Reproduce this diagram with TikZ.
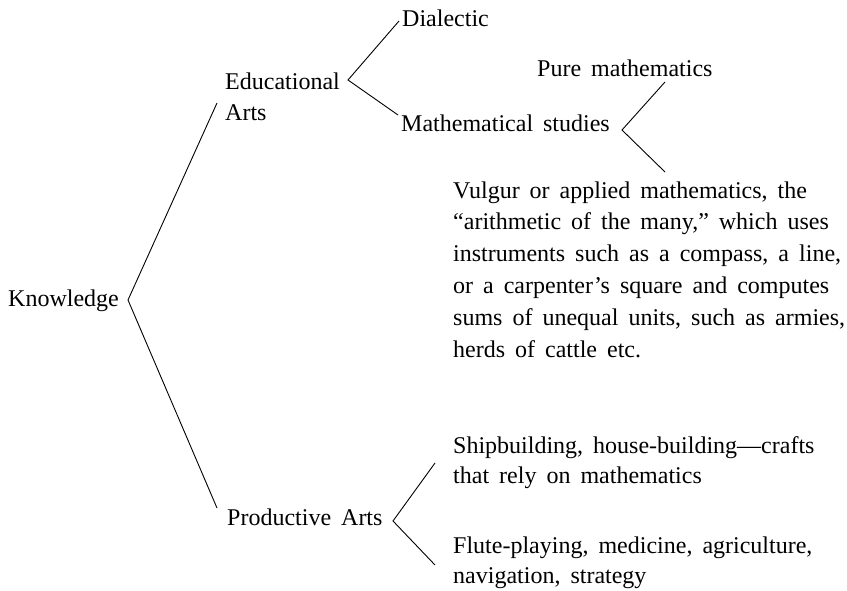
\documentclass[tikz,border=0pt]{standalone}
\usepackage{fontspec}
\setmainfont{Liberation Serif}
\newcommand{\diagfont}{\fontsize{24}{31.8}\selectfont\spaceskip=10pt plus 2pt minus 1pt\relax}
\newcommand{\diagfonttight}{\fontsize{24}{30}\selectfont\spaceskip=10pt plus 2pt minus 1pt\relax}
\tikzset{
  lbl/.style={anchor=base west, inner sep=0pt, align=left, font=\diagfont},
  lbltight/.style={anchor=base west, inner sep=0pt, align=left, font=\diagfonttight},
  brk/.style={draw=black, line width=0.9pt, line join=miter}
}
\begin{document}
\begin{tikzpicture}[x=1pt,y=-1pt]
\useasboundingbox (0,0) rectangle (847,591);
% text nodes (anchored at the baseline of their last line)
\node[lbl] (know) at (8,306) {Knowledge};
\node[lbl] (edu) at (225,121) {Educational\\Arts};
\node[lbl] (prod) at (227,525) {Productive Arts};
\node[lbl] (dia) at (402,27) {Dialectic};
\node[lbl] (math) at (401,132) {Mathematical studies};
\node[lbl] (pure) at (537,77) {Pure mathematics};
\node[lbl] (vulg) at (453,357) {Vulgur or applied mathematics, the\\“arithmetic of the many,” which uses\\instruments such as a compass, a line,\\or a carpenter’s square and computes\\sums of unequal units, such as armies,\\herds of cattle etc.};
\node[lbltight] (ship) at (453,483) {Shipbuilding, house-building—crafts\\that rely on mathematics};
\node[lbltight] (flute) at (453,583) {Flute-playing, medicine, agriculture,\\navigation, strategy};
% bracket points
\coordinate (kv) at (128,300);
\coordinate (ke1) at (217,103);
\coordinate (ke2) at (217,508);
\coordinate (ev) at (348,80);
\coordinate (ee1) at (399,21);
\coordinate (ee2) at (398,115);
\coordinate (mv) at (622,130);
\coordinate (me1) at (665,82);
\coordinate (me2) at (665,172);
\coordinate (pv) at (393,521);
\coordinate (pe1) at (435,463);
\coordinate (pe2) at (435,565);
% connectors
\draw[brk] (ke1) -- (kv) -- (ke2);
\draw[brk] (ee1) -- (ev) -- (ee2);
\draw[brk] (me1) -- (mv) -- (me2);
\draw[brk] (pe1) -- (pv) -- (pe2);
\end{tikzpicture}
\end{document}
